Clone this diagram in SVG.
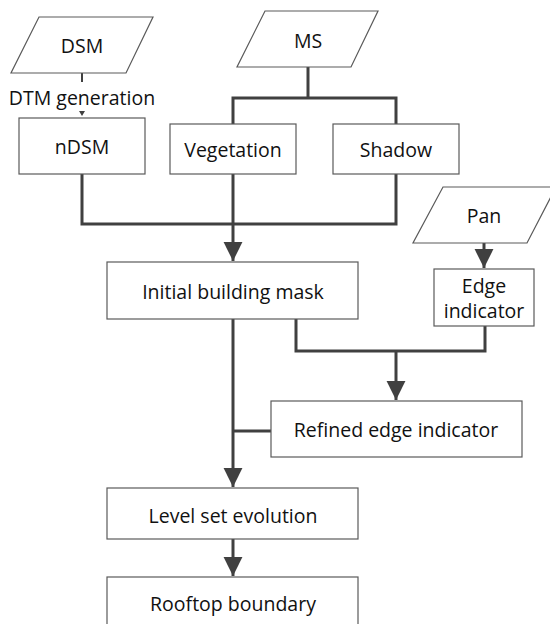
<svg xmlns="http://www.w3.org/2000/svg" width="550" height="624" viewBox="0 0 550 624">
<defs>
<style>
.box{fill:#fff;stroke:#5a5a5a;stroke-width:1.2}
.t{font-family:"Open Sans","Noto Sans",sans-serif;font-size:19.5px;fill:#111;text-anchor:middle;dominant-baseline:central}
.c{fill:none;stroke:#404040;stroke-width:3}
.thin{fill:none;stroke:#404040;stroke-width:2}
</style>
<marker id="ah" viewBox="0 0 10 10" refX="10" refY="5" markerWidth="6.3" markerHeight="6.5" markerUnits="strokeWidth" orient="auto">
<path d="M0,0 L10,5 L0,10 Z" fill="#404040"/>
</marker>
</defs>
<rect width="550" height="624" fill="#fff"/>
<g id="connectors">
<line class="thin" x1="82" y1="73" x2="82" y2="82"/>
<path d="M79,111 L85,111 L82,116 Z" fill="#404040"/>
<path class="c" d="M308,67 V98"/>
<path class="c" d="M233,124 V98 H396 V124"/>
<path class="c" d="M82,174 V224 H396 V174"/>
<path class="c" d="M233,174 V261" marker-end="url(#ah)"/>
<path class="c" d="M484,243 V268" marker-end="url(#ah)"/>
<path class="c" d="M296,319 V351 H485 V326"/>
<path class="c" d="M396,351 V400" marker-end="url(#ah)"/>
<path class="c" d="M233,319 V487" marker-end="url(#ah)"/>
<path class="c" d="M233,431 H271"/>
<path class="c" d="M233,539 V576" marker-end="url(#ah)"/>
</g>
<g id="dsm">
<polygon class="box" points="39,17 153,17 126,73 11,73"/>
<text class="t" x="82" y="45">DSM</text>
</g>
<text id="dtm-label" class="t" x="82" y="97">DTM generation</text>
<g id="ms">
<polygon class="box" points="265,11 378,11 351,67 237,67"/>
<text class="t" x="308" y="40">MS</text>
</g>
<g id="ndsm">
<rect class="box" x="19" y="118" width="126" height="56"/>
<text class="t" x="82" y="146">nDSM</text>
</g>
<g id="vegetation">
<rect class="box" x="170" y="124" width="126" height="50"/>
<text class="t" x="233" y="149">Vegetation</text>
</g>
<g id="shadow">
<rect class="box" x="333" y="124" width="126" height="50"/>
<text class="t" x="396" y="149">Shadow</text>
</g>
<g id="pan">
<polygon class="box" points="443,187 556,187 527,243 413,243"/>
<text class="t" x="484" y="215">Pan</text>
</g>
<g id="initial">
<rect class="box" x="107" y="262" width="251" height="57"/>
<text class="t" x="233" y="291">Initial building mask</text>
</g>
<g id="edge">
<rect class="box" x="434" y="269" width="100" height="57"/>
<text class="t" x="484" y="285">Edge</text>
<text class="t" x="484" y="310">indicator</text>
</g>
<g id="refined">
<rect class="box" x="271" y="401" width="251" height="56"/>
<text class="t" x="396" y="429">Refined edge indicator</text>
</g>
<g id="levelset">
<rect class="box" x="107" y="488" width="251" height="51"/>
<text class="t" x="233" y="515">Level set evolution</text>
</g>
<g id="rooftop">
<rect class="box" x="107" y="577" width="251" height="60"/>
<text class="t" x="233" y="603">Rooftop boundary</text>
</g>
</svg>
